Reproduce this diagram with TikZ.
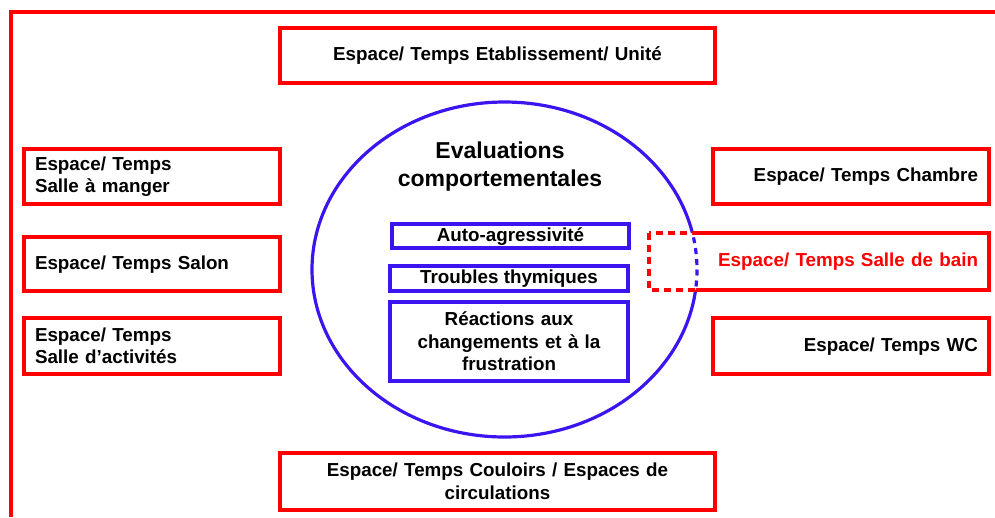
\documentclass[tikz,border=0pt]{standalone}
\usepackage{fontspec}
\setmainfont{Liberation Sans}
\definecolor{fred}{RGB}{255,0,0}
\definecolor{fblue}{RGB}{60,20,240}
\begin{document}
\begin{tikzpicture}[x=1pt,y=-1pt,
  lbl/.style={font=\bfseries\fontsize{18.8}{22.5}\selectfont, text=black},
  redbox/.style={draw=fred, line width=3.2pt, outer sep=0pt, inner ysep=2pt, lbl},
  bluebox/.style={draw=fblue, line width=3.2pt, outer sep=0pt, inner sep=0pt, lbl, align=center},
  leftbox/.style={redbox, anchor=north west, minimum width=256, minimum height=55, inner xsep=11pt, text width=234pt, align=left},
  rightbox/.style={redbox, anchor=north west, minimum width=276, minimum height=55, inner xsep=11pt, text width=254pt, align=right},
  midbox/.style={redbox, anchor=north west, minimum width=435, minimum height=55, text width=420pt, align=center},
  elli/.style={draw=fblue, line width=3.2pt},
  redline/.style={draw=fred, line width=3.2pt}
]
\useasboundingbox (0,0) rectangle (995,517);
% outer frame
\coordinate (fa) at (11,517);
\coordinate (fb) at (11,12);
\coordinate (fc) at (995,12);
\draw[redline] (fa) -- (fb) -- (fc);

% boxes
\node[midbox, text height=14pt, text depth=4pt] (top) at (280,28) {Espace/ Temps Etablissement/ Unité};
\node[midbox, minimum height=57] (bot) at (280,453) {Espace/ Temps Couloirs / Espaces de\\circulations};
\node[leftbox] (l1) at (24,149) {Espace/ Temps\\Salle à manger};
\node[leftbox, minimum height=54, text height=14pt, text depth=4pt] (l2) at (24,237) {Espace/ Temps Salon};
\node[leftbox, minimum height=56] (l3) at (24,318) {Espace/ Temps\\Salle d’activités};
\node[rightbox, text height=14pt, text depth=4pt] (r1) at (713,149) {Espace/ Temps Chambre};
\node[rightbox, minimum height=56, text height=14pt, text depth=4pt] (r3) at (713,318) {Espace/ Temps WC};
\node[redbox, draw=none, anchor=north west, minimum width=340, minimum height=57, inner xsep=11pt, text width=318pt, align=right, text=fred, text height=14pt, text depth=4pt] (sdb) at (649,233) {Espace/ Temps Salle de bain};

% ellipse
\coordinate (c) at (504.5,269.5);
\begin{scope}[even odd rule]
  \clip (-20,-20) rectangle (1015,537) (sdb.north west) rectangle (sdb.south east);
  \draw[elli] (c) ellipse [x radius=192.5, y radius=167.5];
\end{scope}
\begin{scope}
  \clip (sdb.north west) rectangle (sdb.south east);
  \draw[elli, dash pattern=on 6pt off 5pt] (c) ellipse [x radius=192.5, y radius=167.5];
\end{scope}
\begin{scope}[even odd rule]
  \clip (-20,-20) rectangle (1015,537) (c) ellipse [x radius=192.5, y radius=167.5];
  \draw[redline] (sdb.north west) rectangle (sdb.south east);
\end{scope}
\begin{scope}
  \clip (c) ellipse [x radius=192.5, y radius=167.5];
  \draw[redline, dash pattern=on 7pt off 5pt] (sdb.north west) rectangle (sdb.south east);
\end{scope}

% inside
\node[font=\bfseries\fontsize{23}{28}\selectfont, align=center, anchor=north] (title) at (500,138) {Evaluations\\comportementales};
\node[bluebox, anchor=north west, minimum width=237, minimum height=24, text height=14pt, text depth=4pt] (b1) at (392,224) {Auto-agressivité};
\node[bluebox, anchor=north west, minimum width=238, minimum height=25, text height=14pt, text depth=4pt] (b2) at (390,266) {Troubles thymiques};
\node[bluebox, anchor=north west, minimum width=238, minimum height=79, text width=230pt] (b3) at (390,302) {Réactions aux\\changements et à la\\frustration};
\end{tikzpicture}
\end{document}
